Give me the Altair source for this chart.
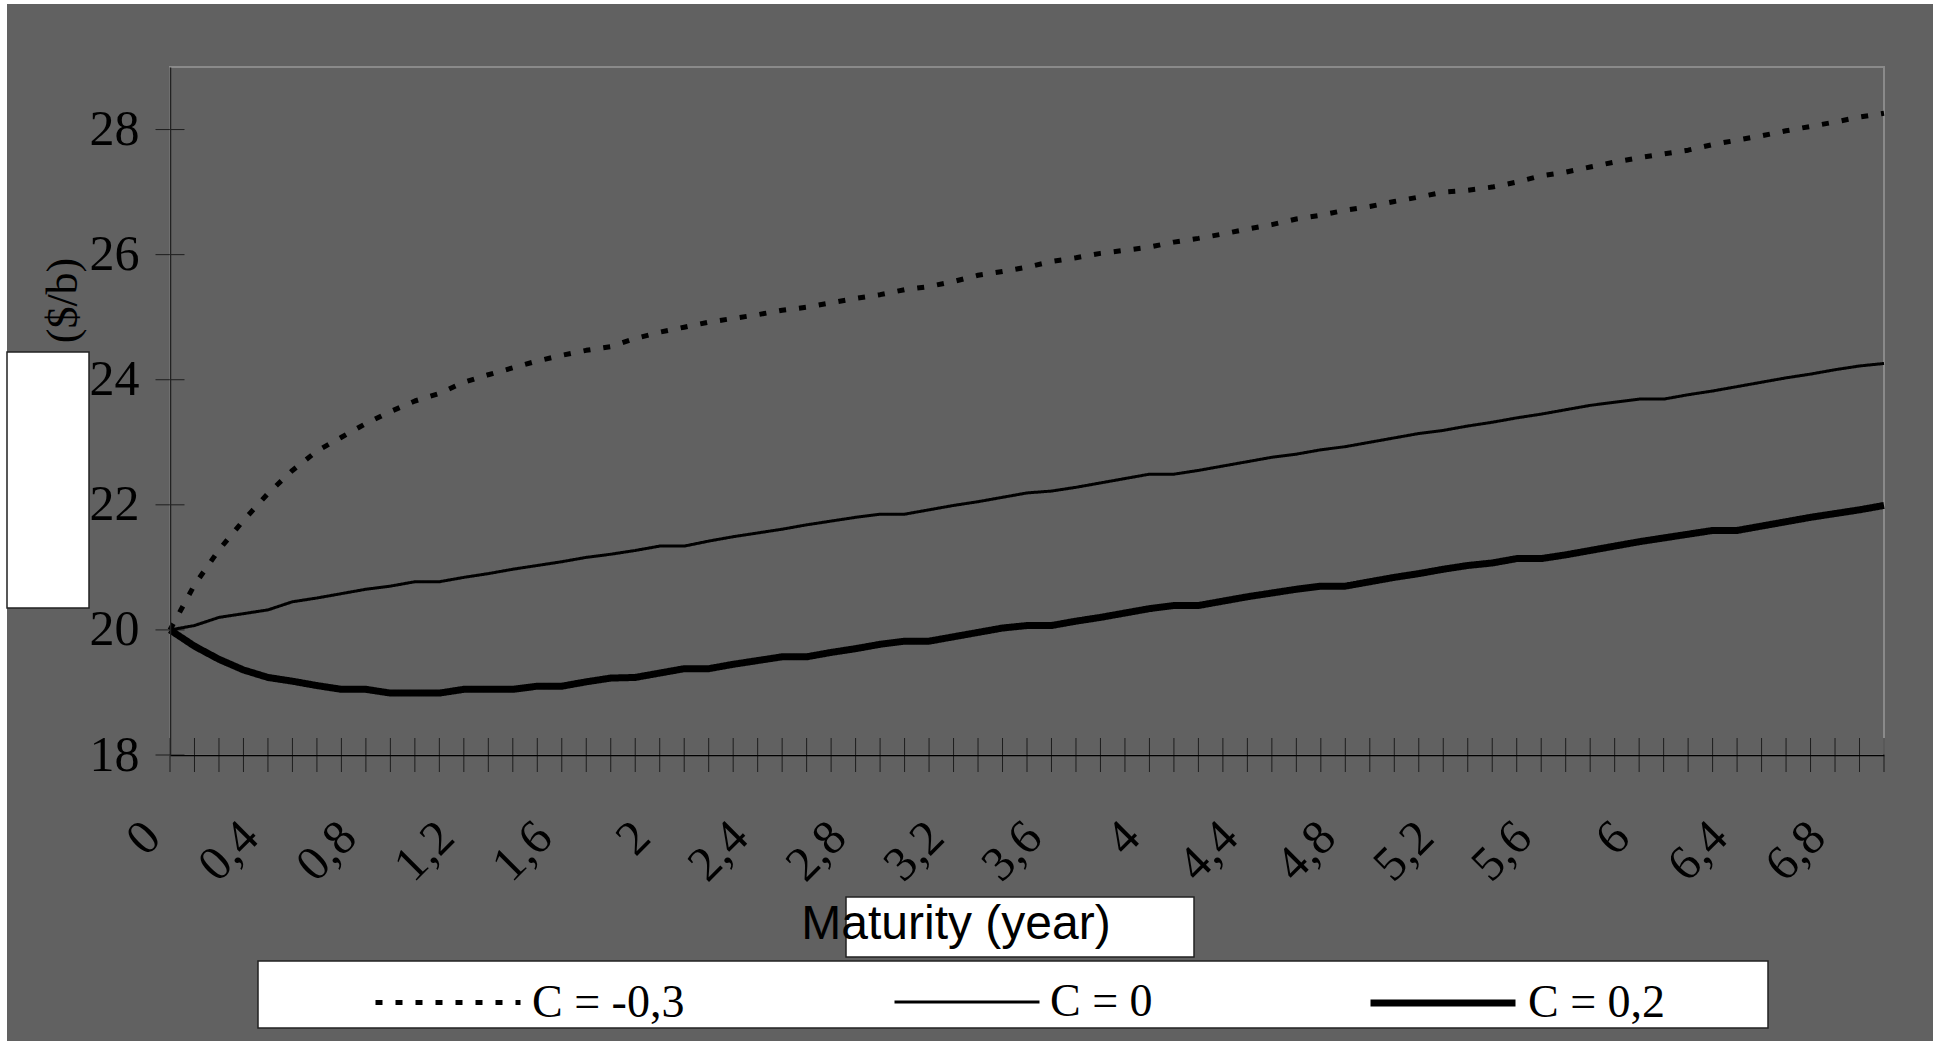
import altair as alt
import pandas as pd

# ---------------- data ----------------
MATURITY = [round(0.1 * i, 1) for i in range(71)]
SERIES = ["C = -0,3", "C = 0", "C = 0,2"]

PRICE_C_NEG03 = [20.0, 20.72, 21.28, 21.75, 22.18, 22.55, 22.86, 23.08, 23.3, 23.49,
                 23.66, 23.78, 23.96, 24.08, 24.19, 24.3, 24.39, 24.47, 24.53, 24.66,
                 24.76, 24.84, 24.92, 24.98, 25.04, 25.11, 25.16, 25.23, 25.3, 25.36,
                 25.44, 25.49, 25.57, 25.67, 25.73, 25.8, 25.89, 25.95, 26.02, 26.07,
                 26.12, 26.2, 26.26, 26.33, 26.41, 26.48, 26.57, 26.63, 26.71, 26.77,
                 26.85, 26.92, 27.0, 27.03, 27.08, 27.16, 27.26, 27.32, 27.4, 27.48,
                 27.55, 27.61, 27.67, 27.76, 27.83, 27.9, 27.98, 28.05, 28.12, 28.2,
                 28.26]

PRICE_C_0 = [20.0, 20.07, 20.2, 20.26, 20.32, 20.45, 20.51, 20.58, 20.65, 20.7,
             20.77, 20.77, 20.84, 20.9, 20.97, 21.03, 21.09, 21.16, 21.21, 21.27,
             21.34, 21.34, 21.42, 21.49, 21.55, 21.61, 21.68, 21.74, 21.8, 21.85,
             21.85, 21.92, 21.99, 22.05, 22.12, 22.19, 22.22, 22.28, 22.35, 22.42,
             22.49, 22.49, 22.55, 22.62, 22.69, 22.76, 22.81, 22.88, 22.93, 23.0,
             23.07, 23.14, 23.19, 23.26, 23.32, 23.39, 23.45, 23.52, 23.59, 23.64,
             23.69, 23.69, 23.76, 23.82, 23.89, 23.96, 24.03, 24.09, 24.16, 24.22,
             24.26]

PRICE_C_02 = [20.0, 19.74, 19.53, 19.36, 19.24, 19.18, 19.11, 19.05, 19.05, 18.99,
              18.99, 18.99, 19.05, 19.05, 19.05, 19.1, 19.1, 19.17, 19.23, 19.24,
              19.31, 19.38, 19.38, 19.45, 19.51, 19.57, 19.57, 19.64, 19.7, 19.77,
              19.82, 19.82, 19.89, 19.96, 20.03, 20.07, 20.07, 20.14, 20.2, 20.27,
              20.34, 20.39, 20.39, 20.46, 20.53, 20.59, 20.65, 20.7, 20.7, 20.77,
              20.84, 20.9, 20.97, 21.03, 21.07, 21.14, 21.14, 21.2, 21.27, 21.34,
              21.41, 21.47, 21.53, 21.59, 21.59, 21.66, 21.73, 21.8, 21.86, 21.92,
              21.99]

Y_TICKS = [18, 20, 22, 24, 26, 28]
X_TICKS = MATURITY  # a tick every 0.1 year, labelled every 0.4

rows = []
for name, vals in zip(SERIES, [PRICE_C_NEG03, PRICE_C_0, PRICE_C_02]):
    for m, v in zip(MATURITY, vals):
        rows.append({"maturity": m, "price": v, "series": name})
df = pd.DataFrame(rows)
one = pd.DataFrame({"k": [0]})
xticks_df = pd.DataFrame({"maturity": X_TICKS})
yticks_df = pd.DataFrame({"price": Y_TICKS})

# ---------------- style ----------------
BG = "#616161"
W, H = 1714, 688
SERIF = "Liberation Serif"
SANS = "Liberation Sans"

x_scale = alt.Scale(domain=[0, 7], nice=False, zero=False)
y_scale = alt.Scale(domain=[18, 29], nice=False, zero=False)

x_axis = alt.Axis(
    values=X_TICKS, ticks=False, tickSize=0, domain=True, domainColor="black", domainWidth=1.5,
    grid=False, zindex=1,
    labelAngle=-45, labelAlign="right", labelBaseline="middle",
    labelPadding=74, labelOffset=-18, labelFont=SERIF, labelFontSize=49,
    labelColor="black", labelOverlap=False, labelFlush=False,
    labelExpr="(round(datum.value*10) % 4 === 0 && datum.value < 6.95) ? replace(format(datum.value, '~g'), '.', ',') : ''",
    title="Maturity (year)", titleFont=SANS, titleFontSize=48, titleFontWeight="normal",
    titleColor="black", titleX=785.5, titleY=183, titleAlign="center", titleBaseline="alphabetic",
)
y_axis = alt.Axis(
    values=Y_TICKS, format="d", ticks=False, tickSize=0, domain=True, domainColor="#222222", domainWidth=1.5,
    grid=False, zindex=1,
    labelPadding=31, labelFont=SERIF, labelFontSize=50, labelColor="black",
    labelAlign="right", labelBaseline="middle",
    title="($/b)", titleFont=SERIF, titleFontSize=44, titleFontWeight="normal",
    titleColor="black", titleX=-106.5, titleY=233, titleAngle=-90,
    titleAlign="center", titleBaseline="middle",
)

# widths: point scale over the reordered domain gives 3 (C=0), 5 (C=-0,3), 7 (C=0,2)
WIDTH_ORDER = ["C = 0", "C = -0,3", "C = 0,2"]
DASH_RANGE = [[1, 0], [7, 13], [1, 0]]

leg = alt.Legend(
    title=None, orient="none", legendX=203, legendY=860, direction="horizontal",
    values=SERIES,
    symbolType="stroke", symbolSize=21025, symbolStrokeColor="black",
    labelFont=SERIF, labelFontSize=46, labelColor="black", labelOffset=9,
    labelLimit=400, columnPadding=203, padding=0, zindex=1,
)

lines = alt.Chart(df).mark_line(color="black", strokeJoin="round").encode(
    x=alt.X("maturity:Q", scale=x_scale, axis=x_axis),
    y=alt.Y("price:Q", scale=y_scale, axis=y_axis),
    strokeDash=alt.StrokeDash("series:N", scale=alt.Scale(domain=WIDTH_ORDER, range=DASH_RANGE), legend=leg),
    strokeWidth=alt.StrokeWidth("series:N", scale=alt.Scale(domain=WIDTH_ORDER, range=[3, 7]), legend=leg),
)

# crossing tick marks, placed through the scales
x_ticks = alt.Chart(xticks_df).mark_tick(orient="vertical", size=34, thickness=1, color="black").encode(
    x=alt.X("maturity:Q", scale=x_scale),
    y=alt.datum(18),
)
y_ticks = alt.Chart(yticks_df).mark_tick(orient="horizontal", size=29, thickness=1, color="black").encode(
    y=alt.Y("price:Q", scale=y_scale),
    x=alt.datum(0),
)


def box(x1, x2, y1, y2, stroke="#222222", sw=1.5):
    return alt.Chart(one).mark_rect(fill="white", stroke=stroke, strokeWidth=sw).encode(
        x=alt.value(x1), x2=alt.value(x2), y=alt.value(y1), y2=alt.value(y2)
    )


legend_box = box(88, 1598, 894, 961)
title_box = box(676, 1024, 830, 890)
left_box = box(-163, -81, 285, 541)
edge_left = box(-170, -163, -67, 974, stroke="white", sw=0)
edge_top = box(-170, 1763, -67, -63, stroke="white", sw=0)

chart = alt.layer(
    lines, x_ticks, y_ticks, edge_left, edge_top, left_box, legend_box, title_box
).properties(
    width=W, height=H,
    autosize=alt.AutoSizeParams(type="none"),
    padding={"left": 170, "top": 67, "right": 49, "bottom": 286},
    background=BG,
).configure_view(
    stroke="#8a8a8a", strokeWidth=2, fill=BG
)

chart.save("out.html", embed_options={"renderer": "svg", "actions": False})
